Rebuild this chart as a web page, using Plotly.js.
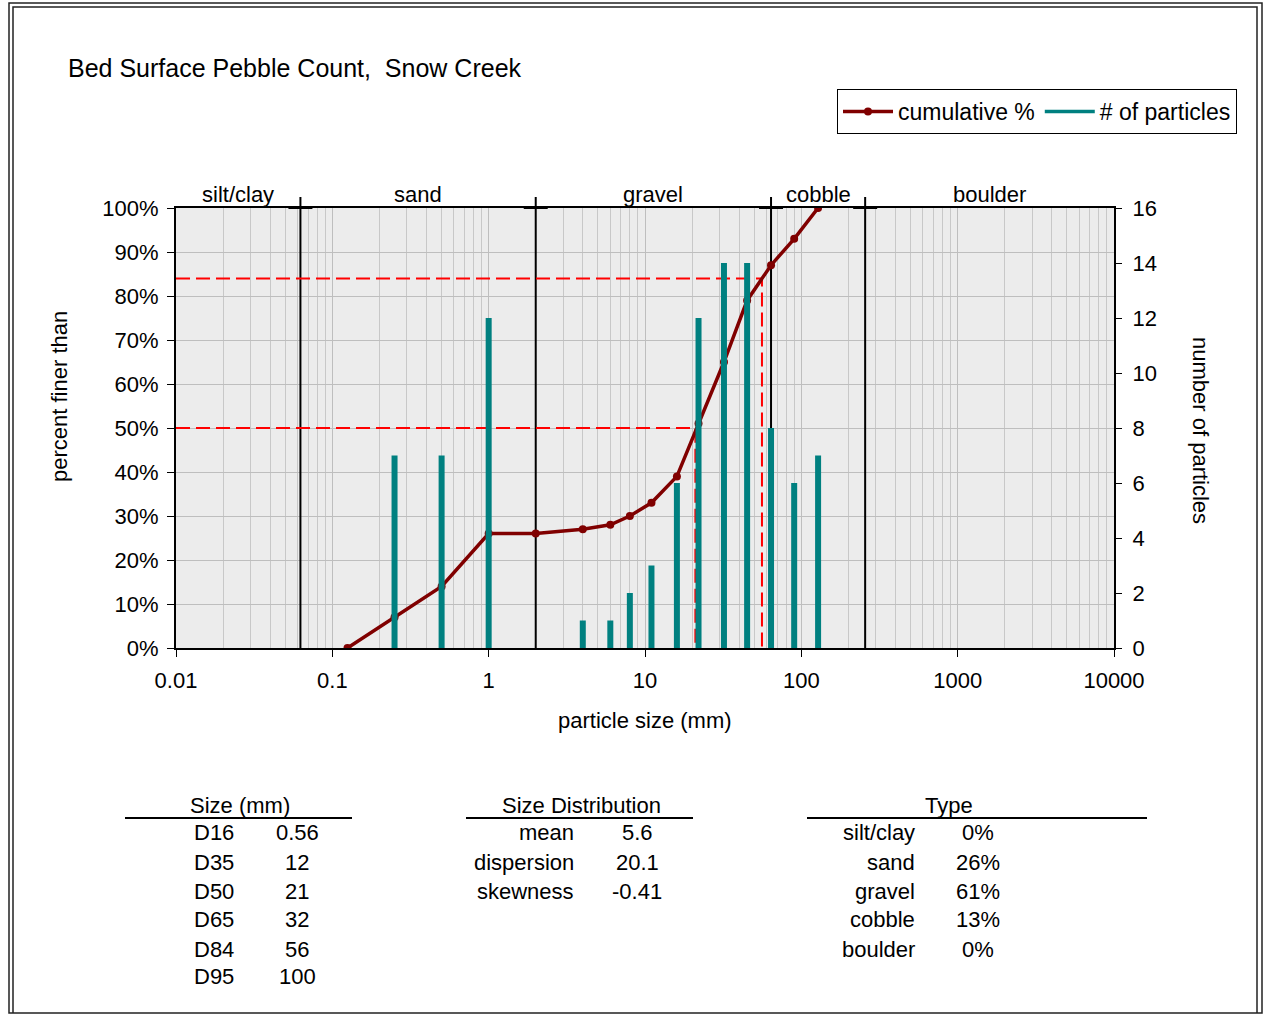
<!DOCTYPE html>
<html>
<head>
<meta charset="utf-8">
<script src="https://cdn.plot.ly/plotly-3.0.1.min.js"></script>
<style>html,body{margin:0;padding:0;background:#fff;}#chart{width:1263px;height:1016px;}</style>
</head>
<body>
<div id="chart"></div>
<script>
// ---- data ----
const sizes = [0.125, 0.25, 0.5, 1, 2, 4, 6, 8, 11, 16, 22, 32, 45, 64, 90, 128];
const counts = [0, 7, 7, 12, 0, 1, 1, 2, 3, 6, 12, 14, 14, 8, 6, 7];
const cumulative = [0, 7, 14, 26, 26, 27, 28, 30, 33, 39, 51, 65, 79, 87, 93, 100];
const classEdges = [0.01, 0.0625, 2, 64, 256, 10000];
const classNames = ['silt/clay', 'sand', 'gravel', 'cobble', 'boulder'];
const xTickVals = [0.01, 0.1, 1, 10, 100, 1000, 10000];
const xTickText = ['0.01', '0.1', '1', '10', '100', '1000', '10000'];
const dLabels = ['D16', 'D35', 'D50', 'D65', 'D84', 'D95'];
const dValues = ['0.56', '12', '21', '32', '56', '100'];
const distLabels = ['mean', 'dispersion', 'skewness'];
const distValues = ['5.6', '20.1', '-0.41'];
const typeLabels = ['silt/clay', 'sand', 'gravel', 'cobble', 'boulder'];
const typeValues = ['0%', '26%', '61%', '13%', '0%'];
const d50 = 21, d84 = 56;

// ---- geometry helpers (pixel -> paper) ----
const L = 176, R = 1114, T = 208, B = 648;
const W = R - L, H = B - T;
const fx = p => (p - L) / W;
const fy = p => (B - p) / H;
const XMIN = -2, XMAX = 4;
const lx = v => (Math.log10(v) - XMIN) / (XMAX - XMIN);

const FONT = 'Arial, "Liberation Sans", sans-serif';
const FS = 22;

// bars as vertical line segments
const barX = [], barY = [];
sizes.forEach((s, i) => { barX.push(s, s, null); barY.push(0, counts[i], null); });

// class boundary lines inside the plot
const inner = classEdges.slice(1, -1);
const edgeX = [], edgeY = [];
inner.forEach(b => { edgeX.push(b, b, null); edgeY.push(0, 100, null); });

// D50 / D84 guide lines
const guideX = [classEdges[0], d50, d50, null, classEdges[0], d84, d84];
const guideY = [50, 50, 0, null, 84, 84, 0];

const traces = [
  { x: edgeX, y: edgeY, type: 'scatter', mode: 'lines', showlegend: false, hoverinfo: 'skip',
    line: { color: '#000', width: 2 } },
  { x: guideX, y: guideY, type: 'scatter', mode: 'lines', showlegend: false, hoverinfo: 'skip',
    line: { color: '#FF0000', width: 2, dash: '14px,6px' } },
  { x: barX, y: barY, yaxis: 'y2', type: 'scatter', mode: 'lines', showlegend: false,
    connectgaps: false, line: { color: '#008080', width: 6 }, hoverinfo: 'skip' },
  { x: sizes, y: cumulative, type: 'scatter', mode: 'lines+markers', name: 'cumulative %', legendrank: 1,
    line: { color: '#800000', width: 3.5 }, marker: { color: '#800000', size: 8 } },
  { x: [null], y: [null], yaxis: 'y2', type: 'scatter', mode: 'lines', name: '# of particles', legendrank: 2,
    line: { color: '#008080', width: 3.5 } }
];

const shapes = [];
const annotations = [];

// class boundary lines above the plot + small crossbars
inner.forEach(b => {
  const xp = lx(b);
  shapes.push({ type: 'line', xref: 'paper', yref: 'paper', x0: xp, x1: xp, y0: 1, y1: fy(197), line: { color: '#000', width: 2 }, layer: 'above' });
  shapes.push({ type: 'line', xref: 'paper', yref: 'paper', x0: xp - 12 / W, x1: xp + 12 / W, y0: 1, y1: 1, line: { color: '#000', width: 2 }, layer: 'above' });
});
// class labels
classNames.forEach((n, i) => {
  const c = (Math.log10(classEdges[i]) + Math.log10(classEdges[i + 1])) / 2;
  annotations.push({ xref: 'paper', yref: 'paper', x: (c - XMIN) / (XMAX - XMIN), y: fy(194), text: n, showarrow: false, xanchor: 'center', yanchor: 'middle', font: { size: FS, color: '#000' } });
});

// frame
shapes.push({ type: 'rect', xref: 'paper', yref: 'paper', x0: fx(9), x1: fx(1262), y0: fy(1013), y1: fy(3), line: { color: '#222', width: 1.5 }, layer: 'above' });
shapes.push({ type: 'path', xref: 'paper', yref: 'paper', path: `M${fx(13)},${fy(1013)} L${fx(13)},${fy(7)} L${fx(1257)},${fy(7)} L${fx(1257)},${fy(1013)}`, line: { color: '#222', width: 1.5 }, layer: 'above' });

// title and axis titles
annotations.push({ xref: 'paper', yref: 'paper', x: fx(66), y: fy(68), text: 'Bed Surface Pebble Count,\u00a0 Snow Creek', showarrow: false, xanchor: 'left', yanchor: 'middle', font: { size: 25, color: '#000' } });
annotations.push({ xref: 'paper', yref: 'paper', x: fx(59), y: fy(397), text: 'percent finer than', textangle: -90, showarrow: false, xanchor: 'center', yanchor: 'middle', font: { size: FS, color: '#000' } });
annotations.push({ xref: 'paper', yref: 'paper', x: fx(1201), y: fy(430), text: 'number of particles', textangle: 90, showarrow: false, xanchor: 'center', yanchor: 'middle', font: { size: FS, color: '#000' } });
annotations.push({ xref: 'paper', yref: 'paper', x: fx(645), y: fy(720), text: 'particle size (mm)', showarrow: false, xanchor: 'center', yanchor: 'middle', font: { size: FS, color: '#000' } });

// tables
const rowY = [832, 862, 891, 919, 949, 977];
function txt(x, y, t, anchor) {
  annotations.push({ xref: 'paper', yref: 'paper', x: fx(x), y: fy(y), text: t, showarrow: false, xanchor: anchor, yanchor: 'middle', font: { size: FS, color: '#000' } });
}
function hline(x0, x1, y) {
  shapes.push({ type: 'line', xref: 'paper', yref: 'paper', x0: fx(x0), x1: fx(x1), y0: fy(y), y1: fy(y), line: { color: '#000', width: 2 }, layer: 'above' });
}
txt(240, 805, 'Size (mm)', 'center'); hline(125, 352, 818);
dLabels.forEach((t, i) => { txt(214, rowY[i], t, 'center'); txt(297, rowY[i], dValues[i], 'center'); });
txt(581, 805, 'Size Distribution', 'center'); hline(466, 693, 818);
distLabels.forEach((t, i) => { txt(576, rowY[i], t, 'right'); txt(637, rowY[i], distValues[i], 'center'); });
txt(949, 805, 'Type', 'center'); hline(807, 1147, 818);
typeLabels.forEach((t, i) => { txt(917, rowY[i], t, 'right'); txt(978, rowY[i], typeValues[i], 'center'); });

const layout = {
  width: 1263, height: 1016,
  margin: { l: L, r: 1263 - R, t: T, b: 1016 - B, pad: 0 },
  paper_bgcolor: '#FFFFFF', plot_bgcolor: '#ECECEC',
  font: { family: FONT, size: FS, color: '#000' },
  showlegend: true,
  legend: {
    orientation: 'h', x: fx(837), y: fy(89), xanchor: 'left', yanchor: 'top',
    bordercolor: '#000', borderwidth: 1, bgcolor: '#FFF',
    font: { size: 23, color: '#000' }, itemwidth: 50, traceorder: 'normal'
  },
  xaxis: {
    type: 'log', range: [XMIN, XMAX], tickmode: 'array', tickvals: xTickVals, ticktext: xTickText,
    showline: true, linecolor: '#000', linewidth: 2, mirror: true,
    ticks: 'outside', ticklen: 7, tickcolor: '#000', tickwidth: 1, ticklabelstandoff: 5,
    showgrid: true, gridcolor: '#BEBEBE', gridwidth: 1,
    minor: { dtick: 'D1', showgrid: true, gridcolor: '#C8C8C8', gridwidth: 1, ticks: '' },
    zeroline: false, fixedrange: true
  },
  yaxis: {
    range: [0, 100], dtick: 10, ticksuffix: '%',
    showline: true, linecolor: '#000', linewidth: 2, mirror: true,
    ticks: 'outside', ticklen: 7, tickcolor: '#000', ticklabelstandoff: 4,
    showgrid: true, gridcolor: '#BEBEBE', gridwidth: 1, zeroline: false, fixedrange: true
  },
  yaxis2: {
    overlaying: 'y', side: 'right', range: [0, 16], dtick: 2,
    ticks: 'outside', ticklen: 7, tickcolor: '#000', ticklabelstandoff: 6,
    showgrid: false, zeroline: false, showline: false, fixedrange: true
  },
  shapes: shapes,
  annotations: annotations
};

Plotly.newPlot('chart', traces, layout, { displayModeBar: false, staticPlot: true });
</script>
</body>
</html>
